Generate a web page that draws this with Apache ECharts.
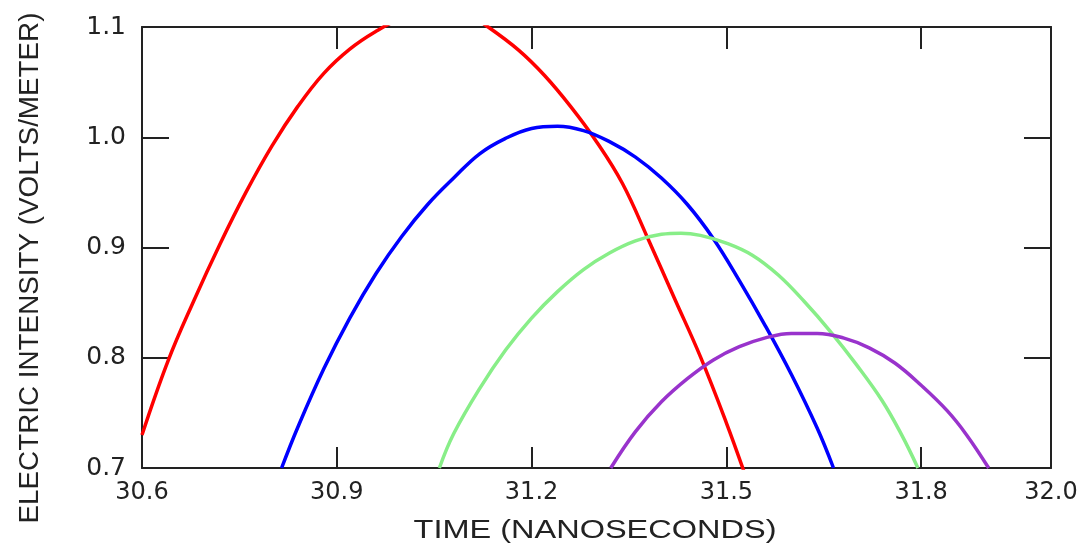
<!DOCTYPE html>
<html>
<head>
<meta charset="utf-8">
<script src="https://cdn.jsdelivr.net/npm/echarts@6/dist/echarts.min.js"></script>
<style>
  html, body { margin: 0; padding: 0; background: #fff; }
  #chart { width: 1091px; height: 545px; }
</style>
</head>
<body>
<div id="chart"></div>
<script>
// axis ticks
const timeTicks = { min: 30.6, max: 32.0, step: 0.3 }
const fieldTicks = { min: 0.7, max: 1.1, step: 0.1 }

// red pulse (its peak goes above the top of the frame)
const redTime = [30.60, 30.64, 30.68, 30.72, 30.76, 30.80, 30.84, 30.88, 30.92, 30.96, 31.00, 31.05, 31.10, 31.133, 31.18, 31.22, 31.26, 31.30, 31.34, 31.38, 31.42, 31.46, 31.50, 31.53]
const redField = [0.730, 0.797, 0.852, 0.903, 0.950, 0.992, 1.028, 1.058, 1.080, 1.096, 1.108, 1.116, 1.112, 1.100, 1.079, 1.056, 1.028, 0.996, 0.958, 0.907, 0.854, 0.801, 0.741, 0.692]

// blue pulse
const blueTime = [30.815, 30.84, 30.88, 30.92, 30.96, 31.00, 31.04, 31.08, 31.12, 31.16, 31.20, 31.24, 31.28, 31.32, 31.36, 31.40, 31.44, 31.48, 31.52, 31.56, 31.60, 31.64, 31.665]
const blueField = [0.700, 0.737, 0.790, 0.836, 0.876, 0.910, 0.939, 0.963, 0.985, 0.999, 1.008, 1.010, 1.006, 0.996, 0.982, 0.963, 0.939, 0.908, 0.870, 0.829, 0.785, 0.736, 0.700]

// green pulse
const greenTime = [31.058, 31.08, 31.12, 31.16, 31.20, 31.24, 31.28, 31.32, 31.36, 31.40, 31.43, 31.46, 31.50, 31.54, 31.58, 31.62, 31.66, 31.70, 31.74, 31.77, 31.795]
const greenField = [0.700, 0.731, 0.772, 0.807, 0.836, 0.860, 0.880, 0.895, 0.906, 0.912, 0.913, 0.911, 0.904, 0.893, 0.875, 0.851, 0.824, 0.794, 0.761, 0.730, 0.700]

// purple pulse
const purpleTime = [31.322, 31.36, 31.40, 31.44, 31.48, 31.52, 31.56, 31.60, 31.64, 31.68, 31.72, 31.76, 31.80, 31.84, 31.87, 31.904]
const purpleField = [0.700, 0.733, 0.760, 0.781, 0.798, 0.810, 0.818, 0.822, 0.822, 0.818, 0.809, 0.795, 0.775, 0.752, 0.730, 0.700]

const xTitle = 'TIME (NANOSECONDS)'
const yTitle = 'ELECTRIC INTENSITY (VOLTS/METER)'

const pairs = (xs, ys) => xs.map((x, i) => [x, ys[i]])

const frame = { color: '#222', width: 2 }
const labelFont = { color: '#222', fontSize: 24, fontFamily: 'DejaVu Sans' }

function pulse (name, color, xs, ys) {
  return {
    name,
    type: 'line',
    data: pairs(xs, ys),
    smooth: 0.4,
    showSymbol: false,
    clip: true,
    lineStyle: { color, width: 3.5 },
    itemStyle: { color },
    animation: false
  }
}

const chart = echarts.init(document.getElementById('chart'))

const option = {
  backgroundColor: '#fff',
  animation: false,
  grid: { left: 142, right: 40, top: 27, bottom: 77 },
  xAxis: [
    {
      type: 'value',
      min: timeTicks.min,
      max: timeTicks.max,
      interval: timeTicks.step,
      axisLine: { lineStyle: frame },
      axisTick: { inside: true, length: 21, lineStyle: frame },
      axisLabel: { ...labelFont, margin: 13, formatter: v => v.toFixed(1) },
      splitLine: { show: false }
    },
    {
      type: 'value',
      position: 'top',
      min: timeTicks.min,
      max: timeTicks.max,
      interval: timeTicks.step,
      axisLine: { lineStyle: frame },
      axisTick: { inside: true, length: 22, lineStyle: frame },
      axisLabel: { show: false },
      splitLine: { show: false }
    }
  ],
  yAxis: [
    {
      type: 'value',
      min: fieldTicks.min,
      max: fieldTicks.max,
      interval: fieldTicks.step,
      axisLine: { show: true, lineStyle: frame },
      axisTick: { show: true, inside: true, length: 27, lineStyle: frame },
      axisLabel: { ...labelFont, fontSize: 25, margin: 16, formatter: v => v.toFixed(1) },
      splitLine: { show: false }
    },
    {
      type: 'value',
      position: 'right',
      min: fieldTicks.min,
      max: fieldTicks.max,
      interval: fieldTicks.step,
      axisLine: { show: true, lineStyle: frame },
      axisTick: { show: true, inside: true, length: 27, lineStyle: frame },
      axisLabel: { show: false },
      splitLine: { show: false }
    }
  ],
  graphic: [
    {
      type: 'text',
      x: 595,
      y: 531,
      scaleX: 1.3,
      style: {
        text: xTitle,
        fontSize: 25,
        fontFamily: 'Liberation Sans',
        fill: '#222',
        align: 'center',
        verticalAlign: 'middle'
      }
    },
    {
      type: 'text',
      x: 31,
      y: 268,
      rotation: Math.PI / 2,
      scaleX: 1.03,
      style: {
        text: yTitle,
        fontSize: 27,
        fontFamily: 'Liberation Sans',
        fill: '#222',
        align: 'center',
        verticalAlign: 'middle'
      }
    }
  ],
  series: [
    pulse('red', '#ff0000', redTime, redField),
    pulse('blue', '#0000ff', blueTime, blueField),
    pulse('green', '#88ee88', greenTime, greenField),
    pulse('purple', '#9933cc', purpleTime, purpleField)
  ]
}

chart.setOption(option)
window.addEventListener('resize', () => chart.resize())
</script>
</body>
</html>
